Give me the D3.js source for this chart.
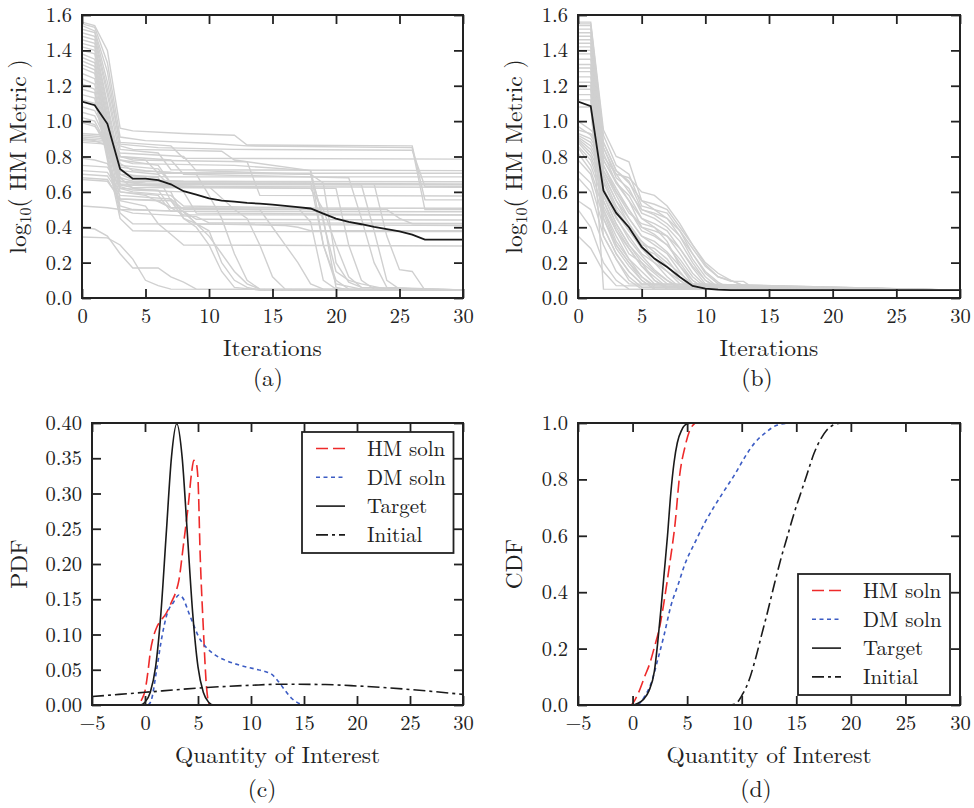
<!DOCTYPE html>
<html>
<head>
<meta charset="utf-8">
<title>HM metric convergence and QoI distributions</title>
<script src="https://d3js.org/d3.v7.min.js"></script>
<style>
  body { margin: 0; background: #fff; }
  .domain { display: none; }
  .tick line { stroke: #222; stroke-width: 1.8; }
</style>
</head>
<body>
<svg id="fig" width="974" height="808"></svg>
<script>
const FONT = '"Latin Modern Roman", "Liberation Serif", "DejaVu Serif", serif';

// ---- ticks ----
const iterTicks = [0, 5, 10, 15, 20, 25, 30];
const metricTicks = [0, 0.2, 0.4, 0.6, 0.8, 1.0, 1.2, 1.4, 1.6];
const qoiTicks = [-5, 0, 5, 10, 15, 20, 25, 30];
const pdfTicks = [0, 0.05, 0.10, 0.15, 0.20, 0.25, 0.30, 0.35, 0.40];
const cdfTicks = [0, 0.2, 0.4, 0.6, 0.8, 1.0];

// ---- (a) HM metric per run, vertices [iteration, log10 value] ----
const runsA = [
  [[0,1.56],[1,1.54],[2,1.40],[3,0.96],[4,0.945],[8,0.93],[12,0.92],[13,0.865],[26,0.86],[27,0.555],[30,0.555]],
  [[0,1.55],[1,1.53],[2,1.33],[3,0.91],[5,0.89],[10,0.875],[13,0.86],[26,0.85],[27,0.50],[30,0.50]],
  [[0,1.54],[1,1.51],[2,1.28],[3,0.87],[6,0.85],[12,0.84],[26,0.835],[27,0.63],[30,0.63]],
  [[0,1.52],[1,1.50],[2,1.22],[3,0.88],[7,0.86],[8,0.79],[30,0.785]],
  [[0,1.50],[1,1.48],[2,1.18],[3,0.84],[6,0.82],[7,0.725],[30,0.72]],
  [[0,1.48],[1,1.46],[2,1.15],[3,0.80],[5,0.78],[6,0.705],[30,0.705]],
  [[0,1.46],[1,1.44],[2,1.10],[3,0.76],[4,0.72],[7,0.71],[18,0.70],[19,0.45],[20,0.06],[21,0.045],[30,0.045]],
  [[0,1.44],[1,1.42],[2,1.08],[3,0.72],[4,0.69],[7,0.685],[30,0.685]],
  [[0,1.42],[1,1.40],[2,1.05],[3,0.70],[4,0.67],[8,0.66],[18,0.655],[19,0.30],[20,0.08],[22,0.05],[23,0.045],[30,0.045]],
  [[0,1.40],[1,1.38],[2,1.02],[3,0.68],[4,0.66],[30,0.657]],
  [[0,1.38],[1,1.35],[2,1.00],[3,0.66],[5,0.65],[23,0.645],[24,0.35],[25,0.16],[26,0.15],[27,0.045],[30,0.045]],
  [[0,1.36],[1,1.33],[2,0.98],[3,0.645],[6,0.64],[30,0.64]],
  [[0,1.34],[1,1.31],[2,0.95],[3,0.64],[4,0.625],[20,0.62],[21,0.30],[22,0.10],[23,0.05],[30,0.045]],
  [[0,1.32],[1,1.29],[2,0.93],[3,0.62],[6,0.61],[7,0.51],[30,0.507]],
  [[0,1.30],[1,1.27],[2,0.90],[3,0.60],[6,0.58],[7,0.49],[30,0.488]],
  [[0,1.27],[1,1.24],[2,0.88],[3,0.56],[6,0.55],[8,0.47],[30,0.469]],
  [[0,1.24],[1,1.21],[2,0.85],[3,0.52],[4,0.50],[8,0.49],[9,0.445],[30,0.441]],
  [[0,1.21],[1,1.18],[2,0.82],[3,0.50],[4,0.48],[9,0.46],[10,0.425],[30,0.422]],
  [[0,1.18],[1,1.16],[2,0.80],[3,0.48],[4,0.42],[30,0.41]],
  [[0,1.15],[1,1.13],[2,0.78],[3,0.45],[4,0.38],[9,0.375],[30,0.375]],
  [[0,1.12],[1,1.10],[2,0.90],[3,0.78],[4,0.76],[12,0.75],[18,0.72],[19,0.30],[20,0.10],[21,0.05],[30,0.045]],
  [[0,1.08],[1,1.06],[2,0.92],[3,0.80],[4,0.78],[13,0.77],[14,0.58],[30,0.577]],
  [[0,1.05],[1,1.03],[2,0.88],[3,0.74],[5,0.72],[9,0.70],[10,0.58],[11,0.45],[12,0.25],[13,0.10],[14,0.05],[30,0.045]],
  [[0,1.02],[1,1.00],[2,0.86],[3,0.70],[6,0.68],[7,0.55],[8,0.45],[9,0.40],[10,0.30],[11,0.15],[12,0.06],[14,0.045],[30,0.045]],
  [[0,0.93],[2,0.92],[3,0.86],[4,0.84],[11,0.83],[12,0.78],[18,0.72],[19,0.43],[20,0.15],[21,0.10],[22,0.08],[24,0.05],[30,0.045]],
  [[0,0.92],[2,0.91],[3,0.82],[8,0.80],[9,0.72],[18,0.70],[19,0.65],[20,0.20],[21,0.09],[22,0.06],[30,0.045]],
  [[0,0.91],[2,0.90],[3,0.80],[7,0.78],[8,0.70],[21,0.68],[22,0.45],[23,0.20],[24,0.06],[30,0.045]],
  [[0,0.90],[2,0.89],[3,0.78],[6,0.75],[7,0.65],[30,0.645]],
  [[0,0.89],[2,0.88],[3,0.75],[6,0.73],[7,0.65],[22,0.64],[23,0.38],[24,0.10],[25,0.05],[30,0.045]],
  [[0,0.88],[2,0.87],[3,0.72],[6,0.70],[7,0.63],[30,0.626]],
  [[0,0.90],[1,0.89],[2,0.86],[3,0.68],[4,0.62],[7,0.60],[8,0.45],[9,0.42],[10,0.38],[11,0.20],[12,0.10],[13,0.06],[14,0.045],[30,0.045]],
  [[0,0.79],[1,0.78],[2,0.76],[3,0.62],[4,0.60],[7,0.58],[8,0.52],[17,0.51],[18,0.43],[19,0.10],[20,0.05],[30,0.045]],
  [[0,0.75],[2,0.74],[3,0.63],[4,0.61],[8,0.60],[9,0.48],[30,0.47]],
  [[0,0.72],[2,0.71],[3,0.60],[5,0.58],[7,0.51],[14,0.50],[15,0.40],[16,0.30],[17,0.20],[18,0.08],[19,0.05],[30,0.045]],
  [[0,0.70],[2,0.69],[3,0.58],[7,0.56],[8,0.50],[24,0.50],[25,0.45],[26,0.42],[30,0.42]],
  [[0,0.67],[2,0.66],[3,0.56],[7,0.55],[9,0.42],[10,0.35],[11,0.25],[12,0.15],[13,0.08],[14,0.05],[30,0.045]],
  [[0,0.68],[2,0.67],[3,0.55],[5,0.52],[6,0.42],[7,0.36],[8,0.30],[30,0.294]],
  [[0,0.52],[2,0.51],[3,0.50],[8,0.49],[9,0.42],[16,0.41],[17,0.40],[18,0.38],[30,0.38]],
  [[0,0.40],[1,0.39],[2,0.35],[3,0.25],[4,0.17],[6,0.17],[7,0.12],[8,0.09],[9,0.05],[30,0.045]],
  [[0,0.345],[2,0.34],[3,0.30],[4,0.22],[5,0.10],[6,0.07],[7,0.05],[30,0.045]],
  [[0,0.99],[1,0.97],[2,0.88],[3,0.66],[5,0.64],[10,0.63],[12,0.50],[13,0.45],[14,0.30],[15,0.12],[16,0.05],[30,0.045]],
  [[0,1.00],[1,0.98],[2,0.84],[3,0.64],[7,0.63],[18,0.62],[19,0.50],[20,0.30],[21,0.12],[22,0.06],[30,0.045]]
];
const meanA = [1.11, 1.09, 0.985, 0.73, 0.675, 0.675, 0.666, 0.643, 0.604, 0.585, 0.563,
  0.551, 0.545, 0.538, 0.533, 0.528, 0.521, 0.514, 0.506, 0.477, 0.449,
  0.43, 0.417, 0.402, 0.39, 0.377, 0.358, 0.33, 0.33, 0.33, 0.33];

// ---- (b) ----
const runsB = [
  [[0,1.56],[1,1.56],[2,0.95],[3,0.80],[4,0.77],[5,0.55],[6,0.53],[7,0.50],[8,0.40],[9,0.30],[10,0.19],[11,0.12],[12,0.094],[13,0.094],[14,0.045],[30,0.044]],
  [[0,1.55],[1,1.55],[2,0.92],[3,0.75],[4,0.70],[5,0.52],[6,0.50],[7,0.48],[8,0.38],[9,0.25],[10,0.15],[11,0.09],[12,0.05],[30,0.045]],
  [[0,1.54],[1,1.54],[2,0.88],[3,0.72],[4,0.66],[5,0.50],[6,0.47],[7,0.42],[8,0.35],[9,0.22],[10,0.12],[11,0.06],[30,0.045]],
  [[0,1.52],[1,1.52],[2,0.85],[3,0.68],[4,0.62],[5,0.48],[6,0.45],[7,0.40],[8,0.32],[9,0.20],[10,0.10],[11,0.05],[30,0.045]],
  [[0,1.50],[1,1.50],[2,0.82],[3,0.65],[4,0.58],[5,0.45],[6,0.42],[7,0.38],[8,0.28],[9,0.17],[10,0.08],[11,0.05],[30,0.044]],
  [[0,1.48],[1,1.48],[2,0.78],[3,0.66],[4,0.55],[5,0.40],[6,0.38],[7,0.35],[8,0.25],[9,0.14],[10,0.07],[30,0.044]],
  [[0,1.46],[1,1.46],[2,0.75],[3,0.62],[4,0.50],[5,0.38],[6,0.35],[7,0.30],[8,0.20],[9,0.10],[10,0.05],[30,0.044]],
  [[0,1.44],[1,1.44],[2,0.72],[3,0.60],[4,0.48],[5,0.42],[6,0.40],[7,0.32],[8,0.18],[9,0.08],[30,0.044]],
  [[0,1.42],[1,1.42],[2,0.70],[3,0.55],[4,0.45],[5,0.35],[6,0.30],[7,0.25],[8,0.15],[9,0.06],[30,0.044]],
  [[0,1.40],[1,1.40],[2,0.68],[3,0.52],[4,0.42],[5,0.30],[6,0.28],[7,0.22],[8,0.12],[9,0.05],[30,0.044]],
  [[0,1.38],[1,1.38],[2,0.65],[3,0.50],[4,0.40],[5,0.28],[6,0.25],[7,0.18],[8,0.10],[9,0.05],[30,0.044]],
  [[0,1.35],[1,1.35],[2,0.62],[3,0.48],[4,0.38],[5,0.32],[6,0.22],[7,0.15],[8,0.08],[30,0.044]],
  [[0,1.32],[1,1.32],[2,0.60],[3,0.45],[4,0.35],[5,0.25],[6,0.20],[7,0.12],[8,0.06],[30,0.044]],
  [[0,1.30],[1,1.30],[2,0.58],[3,0.42],[4,0.30],[5,0.22],[6,0.15],[7,0.10],[8,0.05],[30,0.044]],
  [[0,1.28],[1,1.28],[2,0.55],[3,0.40],[4,0.28],[5,0.18],[6,0.12],[7,0.06],[30,0.044]],
  [[0,1.25],[1,1.25],[2,0.52],[3,0.38],[4,0.25],[5,0.20],[6,0.10],[7,0.05],[30,0.044]],
  [[0,1.22],[1,1.22],[2,0.50],[3,0.35],[4,0.22],[5,0.15],[6,0.08],[30,0.044]],
  [[0,1.20],[1,1.20],[2,0.48],[3,0.30],[4,0.20],[5,0.12],[6,0.06],[30,0.044]],
  [[0,1.18],[1,1.18],[2,0.45],[3,0.28],[4,0.18],[5,0.10],[6,0.05],[30,0.044]],
  [[0,1.15],[1,1.15],[2,0.40],[3,0.25],[4,0.15],[5,0.08],[30,0.044]],
  [[0,1.12],[1,1.12],[2,0.05],[30,0.044]],
  [[0,1.08],[1,1.08],[2,0.35],[3,0.22],[4,0.12],[5,0.06],[30,0.044]],
  [[0,1.00],[1,0.95],[2,0.88],[3,0.72],[4,0.65],[5,0.55],[6,0.50],[7,0.45],[8,0.35],[9,0.25],[10,0.14],[11,0.08],[12,0.06],[13,0.05],[30,0.045]],
  [[0,0.97],[1,0.92],[2,0.80],[3,0.70],[4,0.60],[5,0.50],[6,0.48],[7,0.45],[8,0.38],[9,0.28],[10,0.18],[11,0.12],[12,0.10],[13,0.07],[14,0.045],[30,0.044]],
  [[0,0.93],[1,0.90],[2,0.78],[3,0.65],[4,0.55],[5,0.45],[6,0.40],[7,0.35],[8,0.28],[9,0.18],[10,0.10],[11,0.06],[30,0.045]],
  [[0,0.92],[1,0.88],[2,0.75],[3,0.60],[4,0.50],[5,0.40],[6,0.36],[7,0.30],[8,0.22],[9,0.12],[10,0.06],[30,0.044]],
  [[0,0.91],[1,0.86],[2,0.72],[3,0.58],[4,0.45],[5,0.35],[6,0.32],[7,0.26],[8,0.18],[9,0.10],[10,0.05],[30,0.044]],
  [[0,0.90],[1,0.84],[2,0.70],[3,0.55],[4,0.42],[5,0.32],[6,0.26],[7,0.20],[8,0.14],[9,0.08],[30,0.044]],
  [[0,0.89],[1,0.82],[2,0.66],[3,0.50],[4,0.38],[5,0.28],[6,0.20],[7,0.15],[8,0.10],[9,0.05],[30,0.044]],
  [[0,0.88],[1,0.80],[2,0.62],[3,0.46],[4,0.33],[5,0.24],[6,0.16],[7,0.10],[8,0.06],[30,0.044]],
  [[0,0.86],[1,0.78],[2,0.58],[3,0.42],[4,0.30],[5,0.20],[6,0.14],[7,0.08],[30,0.044]],
  [[0,0.85],[1,0.75],[2,0.55],[3,0.38],[4,0.28],[5,0.18],[6,0.10],[7,0.06],[30,0.044]],
  [[0,0.82],[1,0.72],[2,0.50],[3,0.32],[4,0.22],[5,0.12],[6,0.07],[30,0.044]],
  [[0,0.78],[1,0.70],[2,0.45],[3,0.30],[4,0.20],[5,0.10],[6,0.05],[30,0.044]],
  [[0,0.72],[1,0.65],[2,0.40],[3,0.25],[4,0.15],[5,0.08],[30,0.044]],
  [[0,0.68],[1,0.60],[2,0.35],[3,0.22],[4,0.10],[5,0.05],[30,0.044]],
  [[0,0.55],[1,0.50],[2,0.30],[3,0.15],[4,0.08],[30,0.044]],
  [[0,0.50],[1,0.40],[2,0.20],[3,0.10],[4,0.05],[30,0.044]],
  [[0,0.35],[1,0.28],[2,0.15],[3,0.07],[30,0.044]],
  [[0,0.95],[1,0.93],[2,0.85],[3,0.70],[4,0.68],[5,0.60],[6,0.58],[7,0.52],[8,0.42],[9,0.30],[10,0.20],[11,0.14],[12,0.10],[13,0.07],[14,0.044],[30,0.044]]
];
const meanB = [1.11, 1.085, 0.606, 0.481, 0.40, 0.289, 0.223, 0.175, 0.119, 0.068, 0.053,
  0.047, 0.045, 0.044, 0.044, 0.044, 0.044, 0.044, 0.044, 0.044, 0.044,
  0.044, 0.044, 0.044, 0.044, 0.044, 0.044, 0.044, 0.044, 0.044, 0.044];

// ---- (c) PDFs, [qoi, density] ----
const pdfHM = [[-5,0],[-0.8,0],[-0.3,0.008],[0,0.02],[0.3,0.05],[0.5,0.075],[0.8,0.097],[1.1,0.11],[1.4,0.118],
  [2.0,0.13],[2.5,0.146],[2.9,0.16],[3.2,0.177],[3.6,0.224],[4.1,0.286],[4.4,0.33],[4.6,0.347],[4.8,0.345],
  [5.0,0.32],[5.2,0.215],[5.5,0.11],[5.8,0.026],[6.1,0],[30,0]];
const pdfDM = [[0.3,0],[0.6,0.007],[1.1,0.05],[1.6,0.097],[2.1,0.13],[2.7,0.146],[3.2,0.156],[3.6,0.151],[4.1,0.132],
  [4.6,0.113],[5.05,0.097],[5.7,0.083],[6.6,0.071],[7.5,0.064],[8.8,0.057],[10.4,0.051],[11.2,0.048],[12.0,0.043],
  [12.6,0.033],[13.2,0.021],[13.8,0.01],[14.9,0]];
const pdfTarget = [[-5,0],[-0.5,0],[0,0.004],[0.5,0.018],[1,0.054],[1.5,0.13],[2,0.242],[2.5,0.352],[3,0.399],
  [3.5,0.352],[4,0.242],[4.5,0.13],[5,0.054],[5.5,0.018],[6,0.004],[6.5,0],[30,0]];
const pdfInitial = [[-5,0.012],[0,0.018],[5,0.024],[10,0.028],[13,0.0295],[17,0.029],[20,0.027],[25,0.022],[30,0.015]];

// ---- (d) CDFs ----
const cdfHM = [[-5,0],[-0.2,0],[0.5,0.04],[1.1,0.10],[1.6,0.15],[2.0,0.205],[2.5,0.28],[2.9,0.37],[3.4,0.50],
  [3.9,0.645],[4.3,0.81],[4.8,0.915],[5.2,0.97],[5.6,0.995],[5.8,1.0],[30,1.0]];
const cdfDM = [[-5,0],[0.3,0],[0.5,0.002],[1.1,0.03],[1.7,0.077],[2.3,0.16],[2.9,0.25],[3.5,0.35],[4.2,0.43],
  [4.8,0.50],[5.7,0.575],[6.6,0.645],[7.5,0.705],[8.4,0.76],[9.4,0.82],[10.3,0.88],[11.2,0.93],[12.1,0.963],
  [13.3,0.993],[14.6,1.0],[30,1.0]];
const cdfTarget = [[-5,0],[0,0],[0.5,0.006],[1.0,0.02],[1.5,0.05],[2.0,0.12],[2.3,0.22],[2.6,0.34],[2.9,0.47],
  [3.2,0.60],[3.5,0.75],[3.8,0.86],[4.1,0.93],[4.5,0.975],[5.0,0.997],[5.5,1.0],[30,1.0]];
const cdfInitial = [[-5,0],[9,0],[9.6,0.01],[10.1,0.04],[10.6,0.08],[11.2,0.155],[11.8,0.245],[12.4,0.335],
  [13.0,0.43],[13.6,0.52],[14.2,0.60],[14.8,0.68],[15.4,0.75],[16.0,0.82],[16.6,0.89],[17.2,0.94],
  [17.8,0.975],[18.4,0.993],[19.2,1.0],[30,1.0]];

const legendNames = ["HM soln", "DM soln", "Target", "Initial"];

// styles
const styles = {
  hm: { color: "#ee2a2a", dash: "12,5" },
  dm: { color: "#3c5cc4", dash: "4,3.5" },
  target: { color: "#1a1a1a", dash: null },
  initial: { color: "#1a1a1a", dash: "12,4,3,4" }
};
const styleKeys = ["hm", "dm", "target", "initial"];

const svg = d3.select("#fig");
svg.append("rect").attr("width", 974).attr("height", 808).attr("fill", "#fff");

function makePanel(id, box, xDom, yDom, xTicks, yTicks, yFmt) {
  const x = d3.scaleLinear().domain(xDom).range([box.left, box.right]);
  const y = d3.scaleLinear().domain(yDom).range([box.bottom, box.top]);
  svg.append("clipPath").attr("id", "clip-" + id)
    .append("rect")
    .attr("x", box.left).attr("y", box.top)
    .attr("width", box.right - box.left).attr("height", box.bottom - box.top);
  const plot = svg.append("g").attr("clip-path", `url(#clip-${id})`);
  const axes = svg.append("g");

  axes.append("g").attr("transform", `translate(0,${box.bottom})`)
    .call(d3.axisBottom(x).tickValues(xTicks).tickFormat(d3.format("d"))
      .tickSizeInner(-9).tickSizeOuter(0).tickPadding(10));
  axes.append("g").attr("transform", `translate(0,${box.top})`)
    .call(d3.axisTop(x).tickValues(xTicks).tickFormat("").tickSizeInner(-9).tickSizeOuter(0));
  axes.append("g").attr("transform", `translate(${box.left},0)`)
    .call(d3.axisLeft(y).tickValues(yTicks).tickFormat(d3.format(yFmt))
      .tickSizeInner(-9).tickSizeOuter(0).tickPadding(10));
  axes.append("g").attr("transform", `translate(${box.right},0)`)
    .call(d3.axisRight(y).tickValues(yTicks).tickFormat("").tickSizeInner(-9).tickSizeOuter(0));
  axes.selectAll("g").attr("font-family", null).attr("font-size", null);
  axes.selectAll(".tick text").style("font-size", "20.5px");
  axes.append("rect")
    .attr("x", box.left).attr("y", box.top)
    .attr("width", box.right - box.left).attr("height", box.bottom - box.top)
    .attr("fill", "none").attr("stroke", "#222").attr("stroke-width", 2);
  return { x, y, plot, axes };
}

function labels(box, xlab, caption, captionX, yLabelX, yLabelFn, xlabY, capY) {
  const cx = (box.left + box.right) / 2;
  svg.append("text").attr("x", cx).attr("y", xlabY)
    .attr("text-anchor", "middle").style("font-size", "23.5px")
    .text(xlab);
  svg.append("text").attr("x", captionX).attr("y", capY)
    .attr("text-anchor", "middle").style("font-size", "23.5px")
    .text(caption);
  const t = svg.append("text")
    .attr("transform", `translate(${yLabelX},${(box.top + box.bottom) / 2}) rotate(-90)`)
    .attr("text-anchor", "middle").style("font-size", "23.5px");
  yLabelFn(t);
}

function metricLabel(t) {
  t.append("tspan").text("log");
  t.append("tspan").style("font-size", "16px").attr("dy", 5).text("10");
  t.append("tspan").attr("dy", -5).text("( HM Metric )");
}

function runsPanel(id, box, runs, mean, caption, captionX, yLabelX) {
  const p = makePanel(id, box, [0, 30], [0, 1.6], iterTicks, metricTicks, ".1f");
  const line = d3.line().x(d => p.x(d[0])).y(d => p.y(d[1]));
  p.plot.selectAll("path.run").data(runs).join("path")
    .attr("class", "run")
    .attr("d", line)
    .attr("fill", "none").attr("stroke", "#d0d0d0").attr("stroke-width", 1.4);
  p.plot.append("path")
    .attr("d", d3.line().x((d, i) => p.x(i)).y(d => p.y(d))(mean))
    .attr("fill", "none").attr("stroke", "#1a1a1a").attr("stroke-width", 1.8);
  labels(box, "Iterations", caption, captionX, yLabelX, metricLabel, 356, 386);
}

function distPanel(id, box, series, yDom, yTicks, yFmt, ylab, caption, captionX, yLabelX, legendBox) {
  const p = makePanel(id, box, [-5, 30], yDom, qoiTicks, yTicks, yFmt);
  const line = d3.line().curve(d3.curveMonotoneX).x(d => p.x(d[0])).y(d => p.y(d[1]));
  series.forEach((s, i) => {
    const st = styles[styleKeys[i]];
    p.plot.append("path").attr("d", line(s))
      .attr("fill", "none").attr("stroke", st.color).attr("stroke-width", 1.6)
      .attr("stroke-dasharray", st.dash);
  });
  labels(box, "Quantity of Interest", caption, captionX, yLabelX, t => t.text(ylab), 763, 797);

  // legend
  const lg = svg.append("g");
  lg.append("rect").attr("x", legendBox.x).attr("y", legendBox.y)
    .attr("width", legendBox.w).attr("height", legendBox.h)
    .attr("fill", "#fff").attr("stroke", "#222").attr("stroke-width", 1.8);
  legendNames.forEach((name, i) => {
    const st = styles[styleKeys[i]];
    const yy = legendBox.y + 16.5 + i * 28.8;
    lg.append("line")
      .attr("x1", legendBox.x + 14).attr("x2", legendBox.x + 43)
      .attr("y1", yy).attr("y2", yy)
      .attr("stroke", st.color).attr("stroke-width", 1.6).attr("stroke-dasharray", st.dash);
    lg.append("text").attr("x", legendBox.x + 65).attr("y", yy).attr("dy", "0.35em")
      .style("font-size", "21px").text(name);
  });
}

const boxA = { left: 82, right: 463, top: 15, bottom: 298 };
const boxB = { left: 578, right: 960, top: 15, bottom: 298 };
const boxC = { left: 92, right: 463, top: 423, bottom: 705 };
const boxD = { left: 578, right: 960, top: 423, bottom: 705 };

runsPanel("a", boxA, runsA, meanA, "(a)", 268, 26);
runsPanel("b", boxB, runsB, meanB, "(b)", 757, 522);
distPanel("c", boxC, [pdfHM, pdfDM, pdfTarget, pdfInitial], [0, 0.4], pdfTicks, ".2f", "PDF",
  "(c)", 262, 27, { x: 302, y: 432, w: 151.5, h: 121 });
distPanel("d", boxD, [cdfHM, cdfDM, cdfTarget, cdfInitial], [0, 1], cdfTicks, ".1f", "CDF",
  "(d)", 756, 522, { x: 798, y: 574, w: 152, h: 121 });

// every text in the figure uses the serif face
svg.selectAll("text").style("font-family", FONT).attr("fill", "#222");
</script>
</body>
</html>
